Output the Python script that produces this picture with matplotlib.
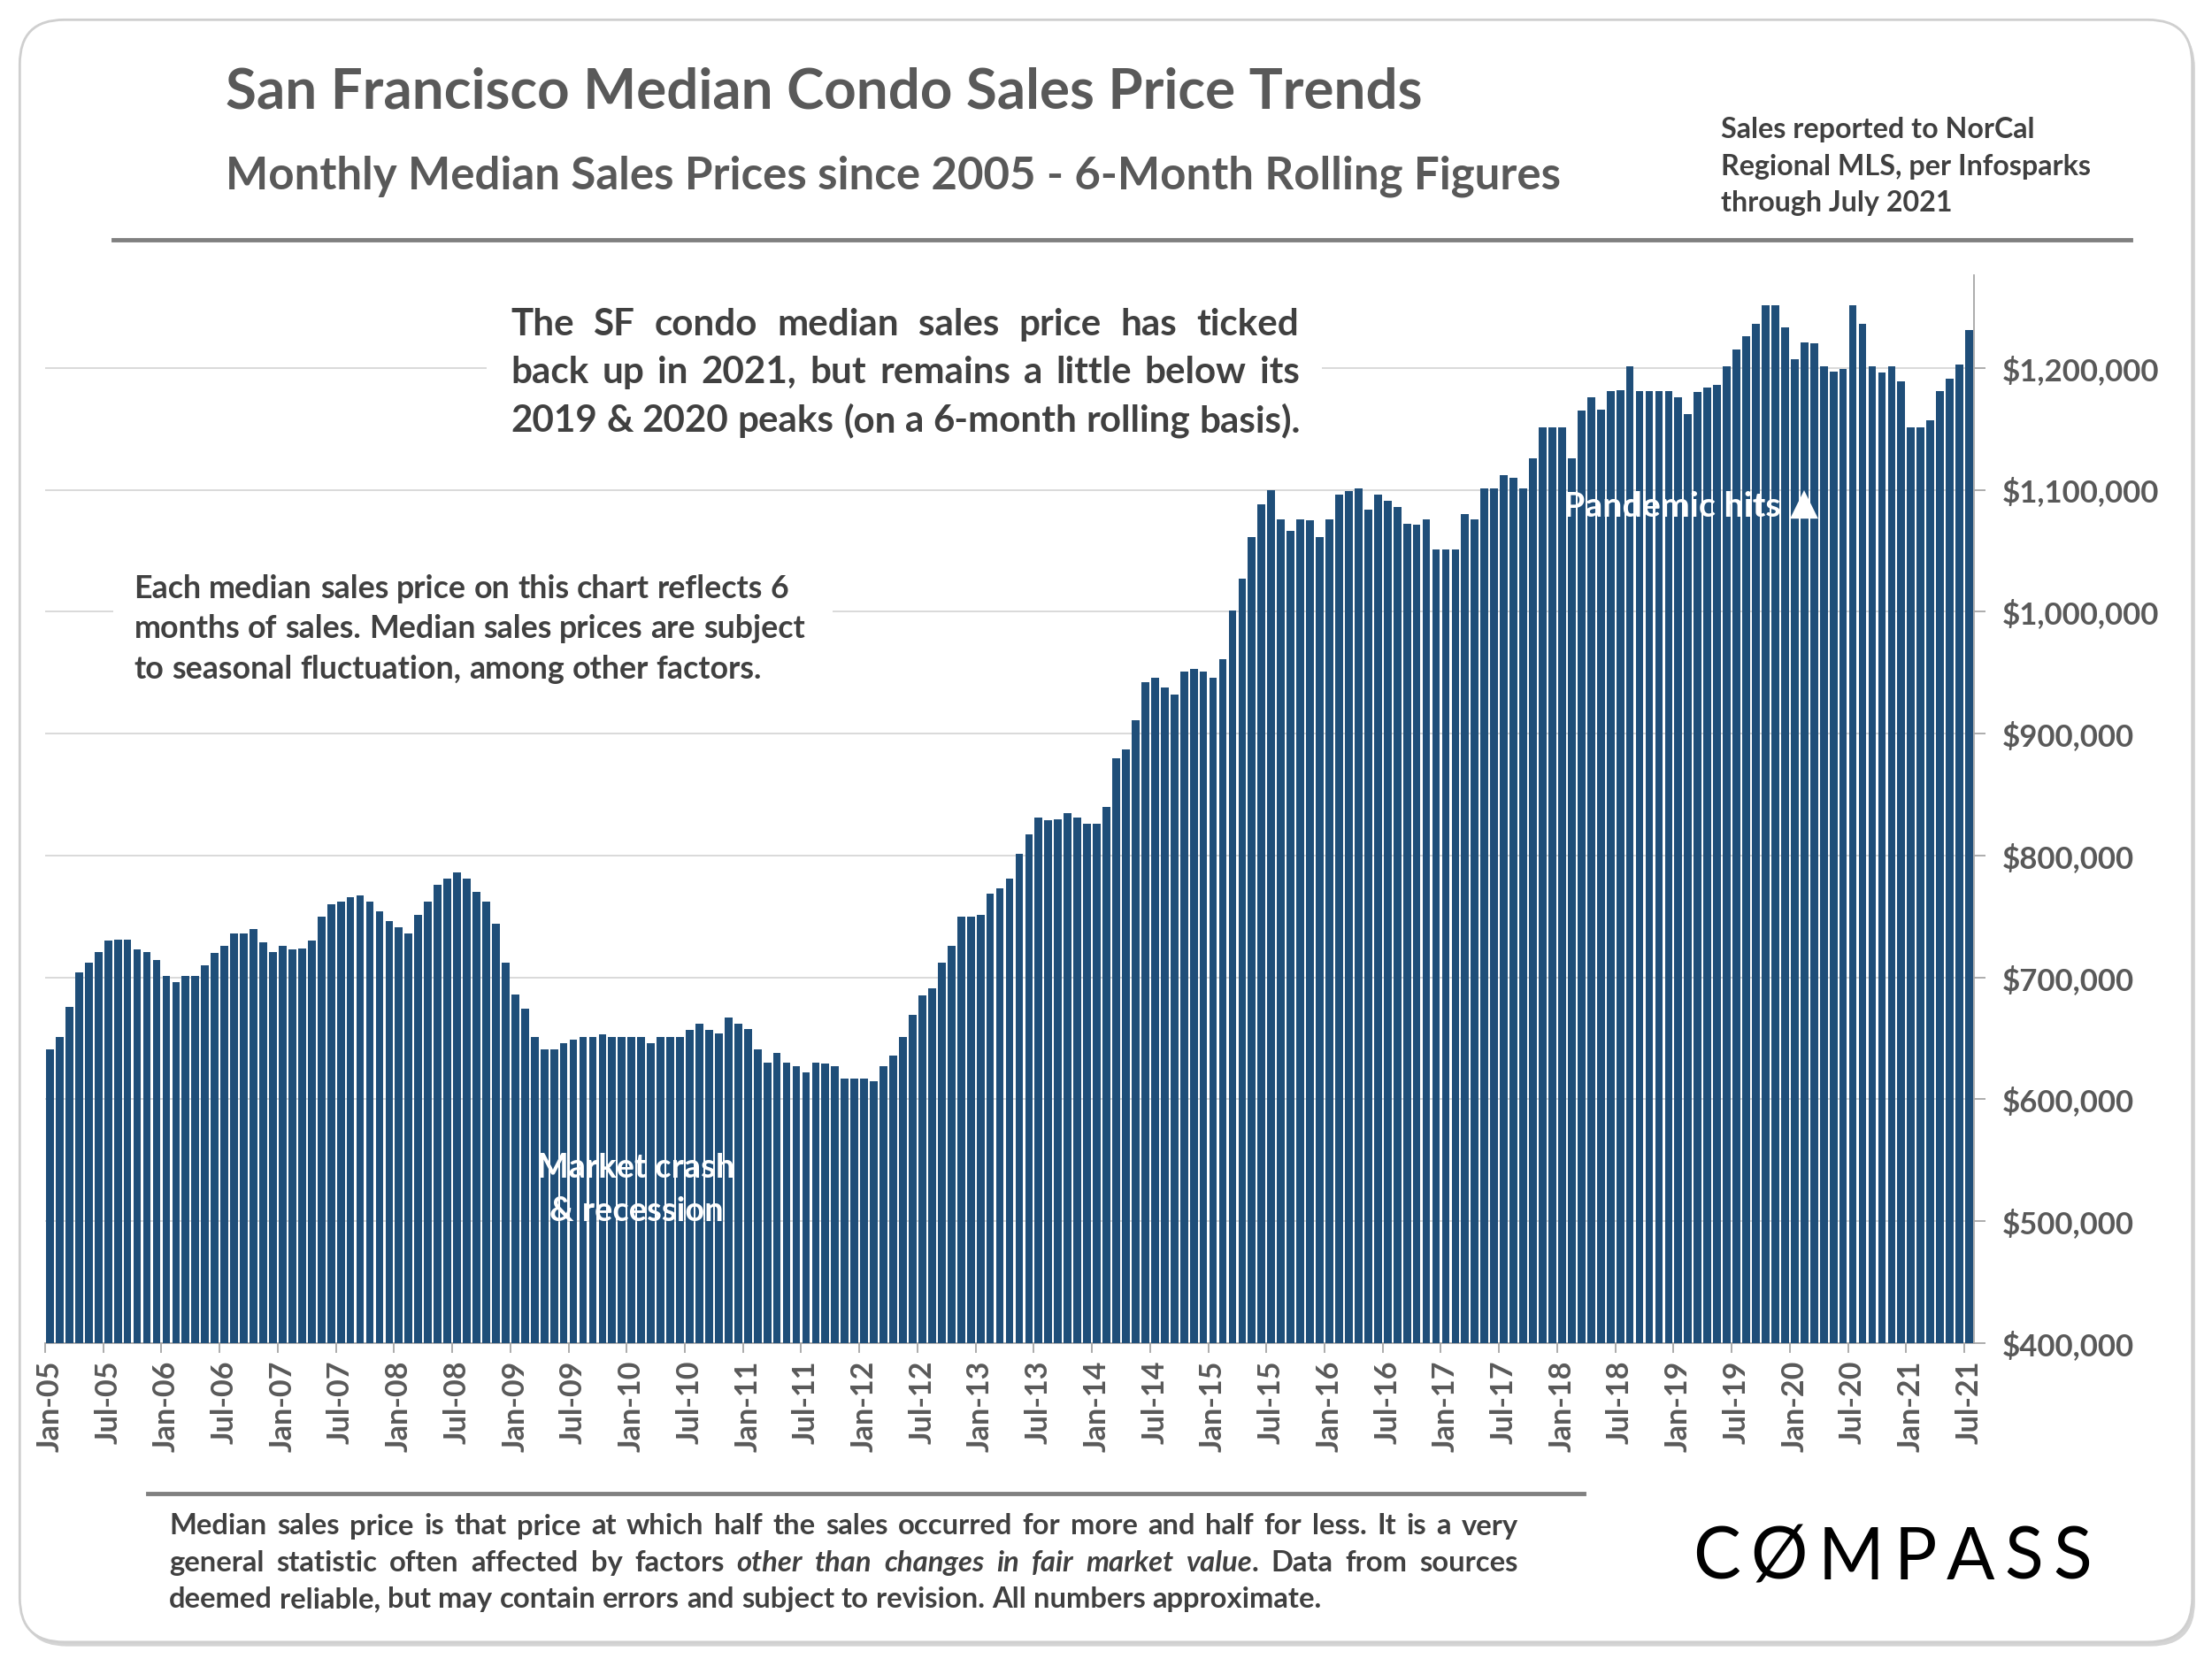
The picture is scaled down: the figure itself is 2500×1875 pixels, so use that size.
import matplotlib
matplotlib.use("Agg")
import matplotlib.pyplot as plt
from matplotlib.patches import FancyBboxPatch, Rectangle
from matplotlib.lines import Line2D
import pandas as pd

# ---------------- data ----------------
months = pd.date_range("2005-01-01", "2021-07-01", freq="MS")
month_labels = [d.strftime("%b-%y") for d in months]

median_price_k = [
    641, 651, 676, 704, 712, 721, 730, 731, 731, 723, 721, 714,
    701, 696, 701, 701, 710, 720, 726, 736, 736, 740, 729, 721,
    726, 723, 724, 730, 750, 760, 762, 766, 767, 762, 754, 746,
    741, 736, 751, 762, 776, 781, 786, 781, 770, 762, 744, 712,
    686, 674, 651, 641, 641, 646, 649, 651, 651, 653, 651, 651,
    651, 651, 646, 651, 651, 651, 657, 662, 657, 654, 667, 662,
    658, 641, 630, 638, 630, 627, 622, 630, 629, 627, 617, 617,
    617, 615, 627, 636, 651, 669, 685, 691, 712, 726, 750, 750,
    751, 769, 773, 781, 801, 817, 831, 829, 830, 835, 831, 826,
    826, 840, 880, 887, 911, 942, 946, 938, 932, 951, 953, 951,
    946, 961, 1001, 1027, 1061, 1088, 1100, 1076, 1066, 1076, 1075, 1061,
    1076, 1096, 1099, 1101, 1084, 1096, 1091, 1086, 1072, 1071, 1076, 1051,
    1051, 1051, 1080, 1076, 1101, 1101, 1112, 1110, 1101, 1126, 1151, 1151,
    1151, 1126, 1165, 1176, 1166, 1181, 1182, 1201, 1181, 1181, 1181, 1181,
    1176, 1162, 1180, 1184, 1186, 1201, 1215, 1226, 1236, 1251, 1251, 1233,
    1207, 1221, 1220, 1201, 1197, 1199, 1251, 1236, 1201, 1196, 1201, 1189,
    1151, 1151, 1157, 1181, 1191, 1203, 1231,
]
prices = [v * 1000 for v in median_price_k]

y_ticks = [400000, 500000, 600000, 700000, 800000, 900000, 1000000, 1100000, 1200000]
y_tick_labels = ["${:,.0f}".format(v) for v in y_ticks]

title = "San Francisco Median Condo Sales Price Trends"
subtitle = "Monthly Median Sales Prices since 2005 - 6-Month Rolling Figures"
source_lines = ["Sales reported to NorCal", "Regional MLS, per Infosparks", "through July 2021"]
top_note = ["The SF condo median sales price has ticked",
            "back up in 2021, but remains a little below its",
            "2019 & 2020 peaks (on a 6-month rolling basis)."]
left_note = ["Each median sales price on this chart reflects 6",
             "months of sales. Median sales prices are subject",
             "to seasonal fluctuation, among other factors."]
footer = ["Median sales price is that price at which half the sales occurred for more and half for less. It is a very",
          "general statistic often affected by factors *other than changes in fair market value*. Data from sources",
          "deemed reliable, but may contain errors and subject to revision. All numbers approximate."]

# ---------------- style ----------------
FONT = ["Lato", "DejaVu Sans"]
plt.rcParams["font.family"] = FONT
BAR = "#1F4E79"
GRAY_T = "#595959"
DARK_T = "#404040"

FW, FH = 2500, 1875
RW, RH = 1568, 1175          # reference display scale used for positions
S = FW / RW

def fx(x):
    return x / RW

def fy(y):
    return 1 - y / RH

fig = plt.figure(figsize=(25, 18.75), dpi=100)
renderer = fig.canvas.get_renderer()

# card border with shadow
shadow = FancyBboxPatch((fx(16), fy(1166)), fx(1556) - fx(16), fy(17) - fy(1166),
                        boxstyle="round,pad=0,rounding_size=0.02", mutation_aspect=4 / 3,
                        transform=fig.transFigure, fc="#d4d4d4", ec="none", zorder=-3)
card = FancyBboxPatch((fx(14), fy(1163)), fx(1554) - fx(14), fy(14) - fy(1163),
                      boxstyle="round,pad=0,rounding_size=0.02", mutation_aspect=4 / 3,
                      transform=fig.transFigure, fc="white", ec="#cfcfcf", lw=2, zorder=-2)
fig.add_artist(shadow)
fig.add_artist(card)

# ---------------- axes ----------------
ax = fig.add_axes([51 / FW, 1 - 1518 / FH, (2231 - 51) / FW, (1518 - 311) / FH])
ax.set_facecolor("none")
x = list(range(len(prices)))
ax.bar(x, prices, width=0.8, color=BAR, zorder=3)
ax.set_xlim(-0.5, len(prices) - 0.5)
ax.set_ylim(400000, 1276000)

ax.yaxis.tick_right()
ax.set_yticks(y_ticks)
ax.set_yticklabels(y_tick_labels)
ax.tick_params(axis="y", which="major", length=9, width=1.3, color="#a6a6a6",
               pad=14, labelsize=25, labelcolor=GRAY_T)
for lab in ax.get_yticklabels():
    lab.set_fontweight("bold")
ax.grid(axis="y", color="#d9d9d9", lw=1.4, zorder=0)
ax.set_axisbelow(True)

tick_pos = [i - 0.5 for i in range(0, len(prices), 6)]
lab_pos = list(range(0, len(prices), 6))
ax.set_xticks(tick_pos)
ax.set_xticklabels([])
ax.set_xticks(lab_pos, minor=True)
ax.set_xticklabels([month_labels[i] for i in lab_pos], minor=True, rotation=90,
                   fontsize=24.5, fontweight="bold", color=GRAY_T)
ax.tick_params(axis="x", which="major", length=8, width=1.3, color="#a6a6a6", direction="out")
ax.tick_params(axis="x", which="minor", length=0, pad=14)

for side in ["left", "top"]:
    ax.spines[side].set_visible(False)
for side in ["right", "bottom"]:
    ax.spines[side].set_color("#a6a6a6")
    ax.spines[side].set_linewidth(1.3)

# ---------------- text helpers ----------------
def width_of(s, size, weight="bold", style="normal"):
    t = fig.text(0, 0, s, fontsize=size, fontweight=weight, fontstyle=style)
    w = t.get_window_extent(renderer).width
    t.remove()
    return w

def fit_size(s, target_w_ref, weight="bold"):
    return 20 * target_w_ref * S / width_of(s, 20, weight)

def parse_words(line):
    words = []
    italic = False
    for raw in line.split(" "):
        segs = []
        parts = raw.split("*")
        for k, p in enumerate(parts):
            if k > 0:
                italic = not italic
            if p:
                segs.append((p, "italic" if italic else "normal"))
        if segs:
            words.append(segs)
    return words

def draw_line(line, x_ref, y_ref, size, color, justify_ref=None, weight="bold", z=5):
    words = parse_words(line)
    wid = []
    for segs in words:
        wid.append(sum(width_of(p, size, weight, st) for p, st in segs))
    space = width_of("a a", size, weight) - width_of("aa", size, weight)
    if justify_ref is not None and len(words) > 1:
        gap = (justify_ref * S - sum(wid)) / (len(words) - 1)
    else:
        gap = space
    xp = x_ref * S
    for segs, w in zip(words, wid):
        xs = xp
        for p, st in segs:
            fig.text(xs / FW, fy(y_ref), p, fontsize=size, fontweight=weight, fontstyle=st,
                     color=color, ha="left", va="center", zorder=z)
            xs += width_of(p, size, weight, st)
        xp += w + gap

# ---------------- header ----------------
fig.text(fx(160), fy(65), title, fontsize=fit_size(title, 848), fontweight="bold",
         color=GRAY_T, ha="left", va="center")
fig.text(fx(160), fy(125), subtitle, fontsize=fit_size(subtitle, 948), fontweight="bold",
         color=GRAY_T, ha="left", va="center")
src_size = fit_size(source_lines[1], 262)
for i, s in enumerate(source_lines):
    fig.text(fx(1220), fy(92 + 26 * i), s, fontsize=src_size, fontweight="bold",
             color=DARK_T, ha="left", va="center")
fig.add_artist(Line2D([fx(80), fx(1510)], [fy(170), fy(170)], color="#808080", lw=3.5,
                      transform=fig.transFigure))

# white boxes behind annotations (interrupt gridlines)
fig.add_artist(Rectangle((fx(345), fy(322)), fx(937) - fx(345), fy(205) - fy(322),
                         transform=fig.transFigure, fc="white", ec="none", zorder=1))
fig.add_artist(Rectangle((fx(80), fy(492)), fx(590) - fx(80), fy(398) - fy(492),
                         transform=fig.transFigure, fc="white", ec="none", zorder=1))

# top annotation (justified)
tn_size = fit_size(top_note[2], 559)
for i, s in enumerate(top_note):
    draw_line(s, 362, 230 + 34 * i, tn_size, DARK_T, justify_ref=559 if i < 2 else None)

# left annotation
ln_size = fit_size(left_note[1], 477)
for i, s in enumerate(left_note):
    draw_line(s, 95, 417 + 28.5 * i, ln_size, DARK_T)

# in-chart labels
mc_size = fit_size("Market crash", 140)
fig.text(fx(451), fy(827), "Market crash", fontsize=mc_size, fontweight="bold",
         color="white", ha="center", va="center", zorder=6)
fig.text(fx(451), fy(858), "& recession", fontsize=mc_size, fontweight="bold",
         color="white", ha="center", va="center", zorder=6)
fig.text(fx(1108), fy(359), "Pandemic hits", fontsize=fit_size("Pandemic hits", 154),
         fontweight="bold", color="white", ha="left", va="center", zorder=6)
fig.text(fx(1279), fy(357), "\u25B2", fontsize=30, color="white", ha="center", va="center",
         zorder=6, family=["DejaVu Sans"])

# ---------------- footer ----------------
fig.add_artist(Line2D([fx(105), fx(1123)], [fy(1058), fy(1058)], color="#808080", lw=3.5,
                      transform=fig.transFigure))
ft_size = fit_size(footer[2], 820)
for i, s in enumerate(footer):
    draw_line(s, 120, 1081 + 26 * i, ft_size, DARK_T, justify_ref=956 if i < 2 else None)

# COMPASS logo
logo = "C\u00D8MPASS"
logo_size = 58
lw_list = [width_of(c, logo_size, "normal") for c in logo]
extra = (283 * S - sum(lw_list)) / (len(logo) - 1)
xp = 1200 * S
for c, w in zip(logo, lw_list):
    fig.text(xp / FW, fy(1104), c, fontsize=logo_size, fontweight="normal", color="black",
             ha="left", va="center")
    xp += w + extra

fig.savefig("out.png", dpi=100, facecolor="white")
